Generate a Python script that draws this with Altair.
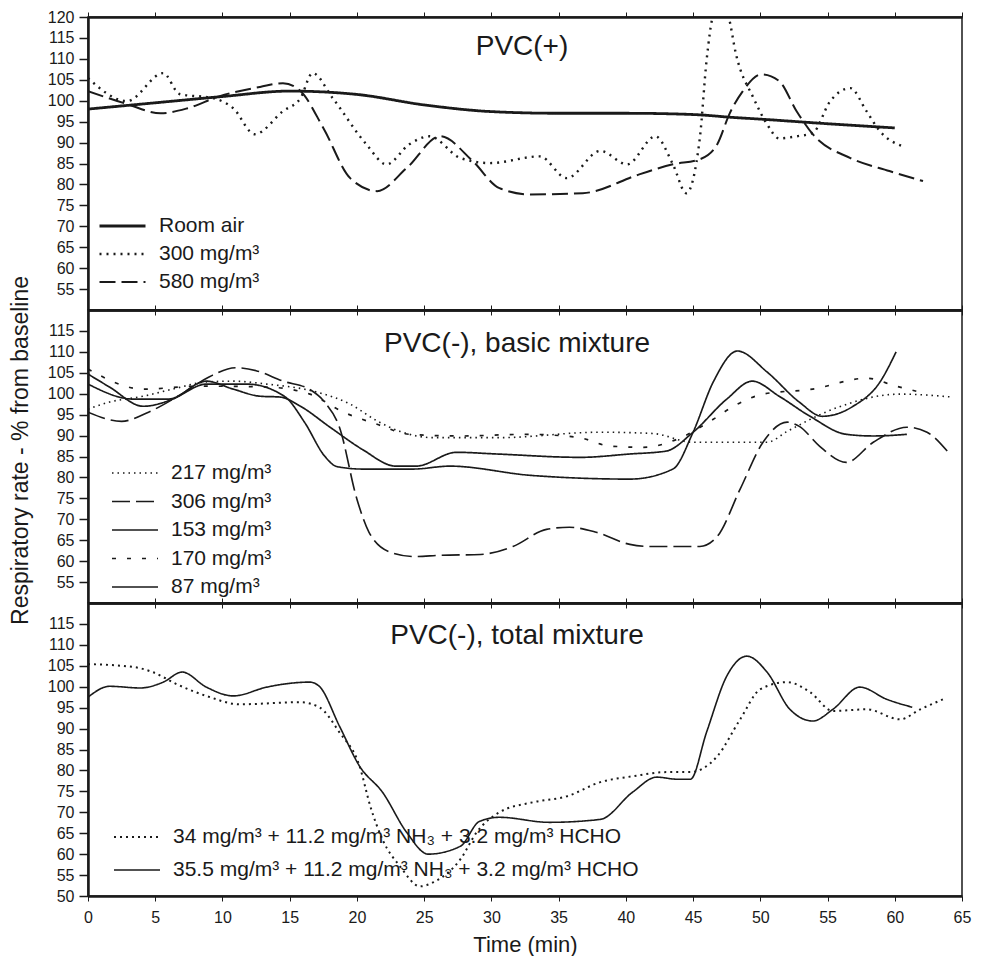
import altair as alt
import pandas as pd

FONT = "Liberation Sans"
INK = "#1a1a1a"

# ---------------- Panel 1: PVC(+) ----------------
p1_title = "PVC(+)"
p1_names = ["Room air", "300 mg/m³", "580 mg/m³"]
room_t = [0, 5, 10, 15, 20, 25, 30, 35, 40, 45, 48, 50, 55, 60]
room_v = [98, 99.5, 101, 102.3, 101.5, 99, 97.4, 97, 97, 96.7, 96, 95.6, 94.5, 93.5]
p300_t = [0, 2.9, 5.6, 6.8, 9.3, 10.8, 12.4, 14.5, 15.8, 16.7, 18.2, 20.7, 22.2, 23.9, 25.4,
          27.7, 29.9, 33.6, 35.6, 38.1, 40.1, 42.2, 43.5, 44.5, 45.5, 46, 46.5, 47.05, 47.6, 48.2,
          49.5, 50.5, 51.4, 52.7, 53.9, 55.2, 56.7, 57.9, 58.9, 60.6]
p300_v = [105.4, 99.9, 106.6, 101.6, 100.6, 98.2, 92, 97.5, 100.6, 106.6, 100.6, 89.6, 84.8, 89.6, 91.5,
          86.3, 85.1, 86.7, 81.5, 88, 84.8, 91.5, 84.8, 77.9, 91, 109.5, 120.5, 123, 120.5, 111,
          100.6, 94.4, 91, 91.5, 92.3, 99.9, 103, 97.5, 92.7, 89.1]
p580_t = [0, 2.9, 5.4, 7.4, 9.8, 12.8, 14.5, 15.8, 17.5, 19.5, 21.5, 23.7, 26.2, 28.6, 30.6,
          32.9, 36.8, 41, 43.5, 45.5, 46.8, 47.7, 48.7, 50.1, 51.4, 52.7, 53.9, 56.7, 59.6, 62.1]
p580_v = [102.3, 99.2, 97, 98.2, 101.1, 103.3, 104.2, 102.3, 93.5, 81.5, 78.4, 83.9, 91.5, 85.6, 79.1,
          77.6, 77.9, 82.4, 84.8, 86, 89.6, 96.8, 102.3, 106.3, 104.7, 97.5, 92, 86.3, 83.2, 80.8]

# ---------------- Panel 2: PVC(-), basic mixture ----------------
p2_title = "PVC(-), basic mixture"
p2_names = ["217 mg/m³", "306 mg/m³", "153 mg/m³", "170 mg/m³", "87 mg/m³"]
s217_t = [0, 1.6, 4.1, 6.3, 8.8, 10.8, 13.3, 17, 19.5, 21.5, 23.2, 25.7, 30.6, 38, 42,
          45, 50.5, 52, 55.4, 60.4, 64.3]
s217_v = [96.3, 98, 99.4, 101.1, 102.8, 103, 102.3, 100.4, 97.5, 93.5, 91, 89.5, 89.5, 90.8, 90.5,
          88.4, 88.4, 91, 96.3, 99.9, 99.2]
s306_t = [0, 2.5, 4.5, 7, 9, 11, 12.5, 14.5, 16.5, 17.6, 18.7, 20, 20.9, 22.5, 24.2,
          26.2, 29.2, 31.6, 34.1, 35.8, 37.8, 40.3, 41.8, 45.5, 46.8, 48.5, 50.2, 52, 52.9, 54.4,
          56.4, 58.4, 60.9, 62.4, 63.9]
s306_v = [95.6, 93.4, 95.6, 100, 104, 106.2, 105.5, 103, 101, 98, 92, 74.8, 66.9, 62.1, 61.1,
          61.4, 61.6, 63.5, 67.6, 68.1, 66.9, 64, 63.5, 63.5, 65.9, 77.2, 88.4, 93.2, 92.2, 87.5,
          83.6, 88.4, 92, 90.8, 86.3]
s153_t = [0, 3.4, 5.9, 8.8, 11.8, 14.6, 16.1, 17.6, 18.5, 20.4, 24.2, 26.9, 32.9, 40.3, 43.5,
          45, 46.5, 48.3, 50.5, 52.9, 54.6, 56.9, 58.9, 60.1]
s153_v = [102.3, 98.7, 98.7, 102.3, 102.3, 99.4, 93.2, 85.1, 82.6, 82, 82, 82.7, 80.5, 79.6, 82,
          90.8, 102.8, 110.2, 105.2, 98, 94.6, 97, 102.8, 110]
s170_t = [0, 4.1, 8.3, 13.3, 16.5, 19, 21.5, 23.9, 27.7, 32.6, 36.4, 38.8, 41.3, 43.8, 46.5,
          48, 50.2, 53.9, 57.9, 60.1, 61.6]
s170_v = [105.9, 101.1, 101.8, 101.6, 99.9, 95.6, 92.7, 90.3, 89.9, 90.3, 89.6, 87.5, 87.2, 89.1, 93.9,
          97, 99.9, 101.1, 103.7, 101.8, 100.6]
s87_t = [0, 1.6, 4.1, 6.3, 8.8, 10.8, 12.8, 14.3, 15.8, 18, 20.4, 22.9, 24.4, 27.4, 30.4,
         36.6, 40.3, 43, 45, 47.5, 49.4, 51.4, 53.7, 56.4, 58.4, 60.9]
s87_v = [104.7, 101.6, 97, 98.7, 103, 101.1, 99.4, 99.2, 97, 92, 86.7, 82.7, 82.7, 86, 85.6,
         84.8, 85.6, 86.3, 90.8, 98.7, 103, 99.4, 94.6, 90.3, 89.9, 90.3]

# ---------------- Panel 3: PVC(-), total mixture ----------------
p3_title = "PVC(-), total mixture"
p3_names = ["34 mg/m³ + 11.2 mg/m³ NH₃ + 3.2 mg/m³ HCHO",
            "35.5 mg/m³ + 11.2 mg/m³ NH₃ + 3.2 mg/m³ HCHO"]
m34_t = [0, 3.4, 4.8, 6.6, 8.8, 11.3, 15.8, 17.2, 18.7, 20.2, 21, 21.9, 23.2, 24.7, 25.7,
         27.7, 28.9, 30.6, 33.1, 35.6, 38.1, 40.5, 43, 44.8, 46.8, 48.5, 50, 52, 53.7, 55.4,
         57.9, 60.4, 61.9, 63.6]
m34_v = [105.4, 104.7, 103.5, 100.6, 97.8, 95.8, 96.3, 95.1, 89.1, 81, 71.4, 63.5, 57.1, 52.3, 53.3,
         58.8, 65.2, 70, 72.4, 73.8, 77.2, 78.6, 79.6, 79.6, 83.4, 92.2, 99.4, 101.1, 98.7, 94.2,
         94.6, 92.2, 94.6, 97]
m355_t = [0, 1.6, 3.9, 5.6, 7, 8.8, 10.8, 13.3, 14.5, 16.5, 17.2, 18.7, 20.2, 21.9, 23.7,
          25.3, 27.7, 29.1, 30.6, 34.3, 38.1, 40.5, 42.3, 43.8, 44.8, 46, 47.5, 49, 50.5, 52.2,
          53.9, 55.4, 57.4, 59.4, 61.3]
m355_v = [97.5, 100.1, 99.7, 101.1, 103.5, 99.9, 97.8, 99.9, 100.6, 101.1, 100.1, 90.6, 81, 74.8, 65.2,
          60, 61.9, 67.8, 68.8, 67.6, 68.3, 74.8, 78.4, 77.9, 77.9, 89.1, 102.5, 107.3, 103.5, 94.6,
          91.8, 94.6, 99.9, 97, 95.1]

x_ticks = list(range(0, 66, 5))
p1_yticks = list(range(55, 121, 5))
p2_yticks = list(range(55, 116, 5))
p3_yticks = list(range(50, 116, 5))

W, H = 874, 293


def make_df(names, ts, vs):
    rows = []
    for n, tt, vv in zip(names, ts, vs):
        for a, b in zip(tt, vv):
            rows.append({"series": n, "t": a, "v": b})
    return pd.DataFrame(rows)


def panel(df, names, dashes, widths, title, title_pos, yticks, leg_xy, row_pad,
          bottom=False, ytitle=None):
    xs = alt.Scale(domain=[0, 65], nice=False, zero=False)
    ys = alt.Scale(domain=[50, 120], nice=False, zero=False)
    leg = alt.Legend(orient="none", legendX=leg_xy[0], legendY=leg_xy[1], title=None,
                     symbolType="stroke", symbolSize=2116, clipHeight=22, rowPadding=row_pad,
                     labelFont=FONT, labelFontSize=21, labelColor=INK, labelOffset=12,
                     padding=0, symbolStrokeColor=INK, labelLimit=700)
    yax_kw = dict(values=yticks, tickSize=9, labelPadding=5, labelFontSize=16,
                  domainWidth=2.5, tickWidth=1.5)
    if ytitle:
        yax = alt.Axis(title=ytitle, titleFontSize=23, titlePadding=15, titleY=140, **yax_kw)
    else:
        yax = alt.Axis(title=None, **yax_kw)
    if bottom:
        xb = alt.Axis(orient="bottom", values=x_ticks, tickSize=5, labelPadding=8,
                      labelFontSize=16, title="Time (min)", titleFontSize=22, titlePadding=9,
                      domainWidth=2.5, labelFlush=False)
    else:
        xb = alt.Axis(orient="bottom", values=x_ticks, tickSize=5, labels=False, title=None,
                      domainWidth=2.5)
    xt = alt.Axis(orient="top", values=x_ticks, tickSize=5, labels=False, title=None,
                  domainWidth=2.5)

    lines = alt.Chart(df).mark_line(interpolate="monotone", clip=True, color=INK).encode(
        x=alt.X("t:Q", scale=xs, axis=xb),
        y=alt.Y("v:Q", scale=ys, axis=yax),
        strokeDash=alt.StrokeDash("series:N", scale=alt.Scale(domain=names, range=dashes), legend=leg),
        strokeWidth=alt.StrokeWidth("series:N", scale=alt.Scale(domain=names, range=widths), legend=leg),
    )
    top = alt.Chart(df).mark_line(opacity=0, clip=True).encode(
        x=alt.X("t:Q", scale=xs, axis=xt),
        y=alt.Y("v:Q", scale=ys, axis=yax),
        detail="series:N",
    )
    ttl = alt.Chart(pd.DataFrame({"label": [title]})).mark_text(
        font=FONT, fontSize=28, color=INK, align="center", baseline="middle"
    ).encode(text="label:N", x=alt.value(title_pos[0]), y=alt.value(title_pos[1]))
    return alt.layer(lines, top, ttl).resolve_axis(x="independent").properties(width=W, height=H)


df1 = make_df(p1_names, [room_t, p300_t, p580_t], [room_v, p300_v, p580_v])
df2 = make_df(p2_names, [s217_t, s306_t, s153_t, s170_t, s87_t], [s217_v, s306_v, s153_v, s170_v, s87_v])
df3 = make_df(p3_names, [m34_t, m355_t], [m34_v, m355_v])

c1 = panel(df1, p1_names, [[1, 0], [2, 5], [16, 6]], [2.8, 2.0, 1.7], p1_title, (434, 30),
           p1_yticks, (10, 198), 6)
c2 = panel(df2, p2_names, [[1.5, 4], [18, 6], [1, 0], [4, 11], [1, 0]], [1.6, 1.7, 1.4, 3.5, 3.0],
           p2_title, (429, 34), p2_yticks, (23, 152), 6.5, ytitle="Respiratory rate - % from baseline")
c3 = panel(df3, p3_names, [[2, 4], [1, 0]], [2.0, 1.6], p3_title, (429, 33),
           p3_yticks, (25, 223), 11, bottom=True)

chart = alt.vconcat(c1, c2, c3, spacing=0, bounds="flush").resolve_scale(
    strokeDash="independent", strokeWidth="independent"
).resolve_legend(
    strokeDash="independent", strokeWidth="independent"
).properties(
    padding={"left": 0, "top": 0, "right": 5, "bottom": 0}
).configure_view(
    stroke=INK, strokeWidth=1.5
).configure_axis(
    domainColor=INK, tickColor=INK, labelColor=INK, titleColor=INK,
    labelFont=FONT, titleFont=FONT, titleFontWeight="normal", grid=False
)

chart.save("out.html", embed_options={"renderer": "svg", "actions": False})
